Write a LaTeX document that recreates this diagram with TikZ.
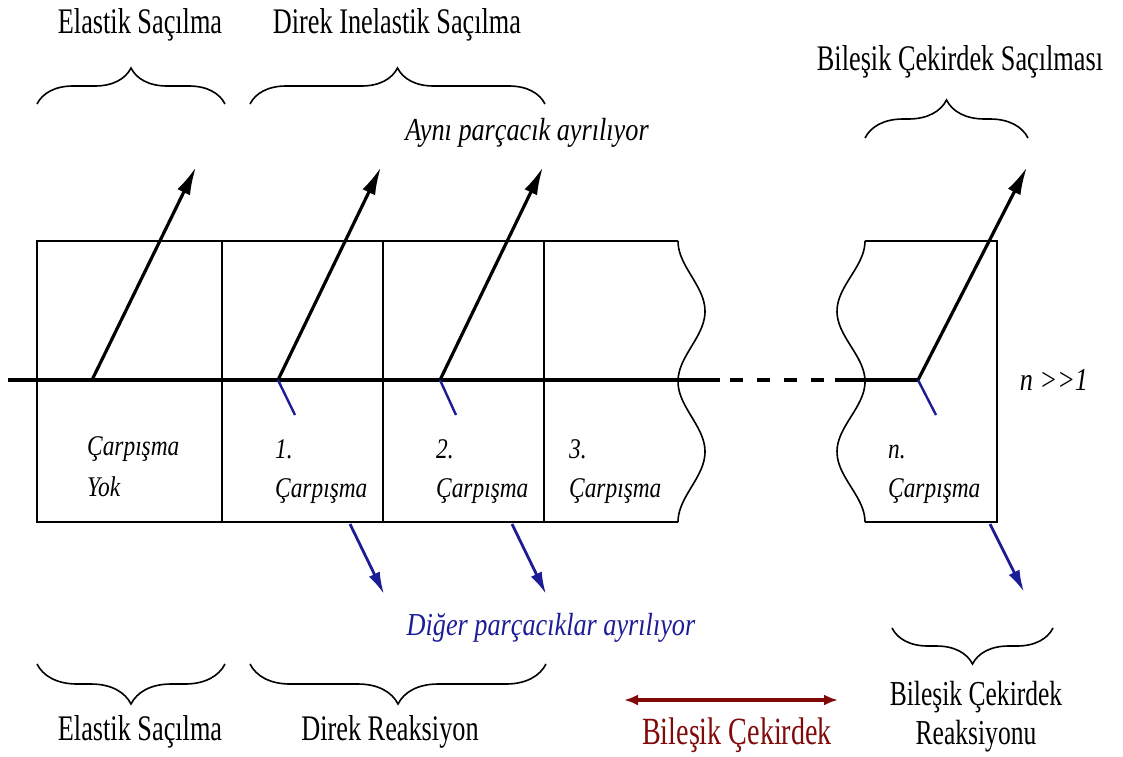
\documentclass[tikz,border=0pt]{standalone}
\usepackage{fontspec}
\setmainfont{Liberation Serif}[FakeStretch=0.82]
\newfontfamily\condserif{Liberation Serif}[FakeStretch=0.73]
\usetikzlibrary{arrows.meta,decorations.pathreplacing}
\definecolor{pblue}{RGB}{28,28,150}
\definecolor{pred}{RGB}{128,10,10}
\begin{document}
\begin{tikzpicture}[x=1pt,y=-1pt,
  frame/.style={line width=1.6pt},
  axis/.style={line width=3.8pt},
  emit/.style={line width=3.2pt,-{Latex[length=28pt,width=14pt]}},
  bluetick/.style={line width=2.4pt,draw=pblue},
  blueemit/.style={line width=2.8pt,draw=pblue,-{Latex[length=22pt,width=12pt]}},
  lbl/.style={font=\condserif\fontsize{36}{40}\selectfont,inner sep=0pt},
  itl/.style={font=\fontsize{32}{36}\selectfont\itshape,inner sep=0pt},
  boxtxt/.style={font=\fontsize{28.5}{30}\selectfont\itshape,inner sep=0pt,anchor=base west},
  brc/.style={decorate,decoration={brace,amplitude=#1},line width=1.6pt},
  brcm/.style={decorate,decoration={brace,mirror,amplitude=#1},line width=1.6pt},
]
\useasboundingbox (0,0) rectangle (1123,756);

% ---- interaction cells ----
\draw[frame] (678,241) -- (37,241) -- (37,522) -- (678,522);
\draw[frame] (222,241) -- (222,522);
\draw[frame] (383,241) -- (383,522);
\draw[frame] (544,241) -- (544,522);
\draw[frame] plot[domain=0:281,samples=80,smooth] ({691.5-13.5*cos(2.5623*\x)},{241+\x});
\draw[frame] (865,241) -- (997,241) -- (997,522) -- (865,522);
\draw[frame] plot[domain=0:281,samples=80,smooth] ({851+14*cos(2.5623*\x)},{241+\x});

% ---- projectile path ----
\coordinate (in)  at (8,380);
\coordinate (v0)  at (92,380);
\coordinate (v1)  at (278,380);
\coordinate (v2)  at (440,380);
\coordinate (gapA) at (720,380);
\coordinate (gapB) at (835,380);
\coordinate (vn)  at (918,380);
\draw[axis] (in) -- (gapA);
\draw[axis,dash pattern=on 13pt off 14pt,dash phase=-10pt] (gapA) -- (gapB);
\draw[axis] (gapB) -- (vn);

% ---- outgoing projectile ----
\coordinate (o0) at (196,167);
\coordinate (o1) at (381,167);
\coordinate (o2) at (543,167);
\coordinate (on) at (1027,167);
\draw[emit] (v0) -- (o0);
\draw[emit] (v1) -- (o1);
\draw[emit] (v2) -- (o2);
\draw[emit] (vn) -- (on);

% ---- recoil ticks ----
\coordinate (t1) at (295,415);
\coordinate (t2) at (456,415);
\coordinate (tn) at (936,415);
\draw[bluetick] (v1) -- (t1);
\draw[bluetick] (v2) -- (t2);
\draw[bluetick] (vn) -- (tn);

% ---- other particles leaving ----
\coordinate (b1s) at (350,524);
\coordinate (b1e) at (384,594);
\coordinate (b2s) at (512,524);
\coordinate (b2e) at (546,594);
\coordinate (bns) at (990,524);
\coordinate (bne) at (1024,592);
\draw[blueemit] (b1s) -- (b1e);
\draw[blueemit] (b2s) -- (b2e);
\draw[blueemit] (bns) -- (bne);

% ---- cell labels ----
\node[boxtxt] (c0a) at (87,455) {Çarpışma};
\node[boxtxt] (c0b) at (87,496) {Yok};
\node[boxtxt] (c1a) at (275,458) {1.};
\node[boxtxt] (c1b) at (275,497) {Çarpışma};
\node[boxtxt] (c2a) at (436,458) {2.};
\node[boxtxt] (c2b) at (436,497) {Çarpışma};
\node[boxtxt] (c3a) at (569,458) {3.};
\node[boxtxt] (c3b) at (569,497) {Çarpışma};
\node[boxtxt] (cna) at (888,458) {n.};
\node[boxtxt] (cnb) at (888,497) {Çarpışma};
\node[itl] (nn) at (1054,380) {n >{}>1};

% ---- braces above ----
\draw[brc=36pt] (37,104) -- (225,104);
\draw[brc=36pt] (250,104) -- (545,104);
\draw[brc=38pt] (865,138) -- (1028,138);
\node[lbl] (t_el) at (140,25) {Elastik Saçılma};
\node[lbl] (t_di) at (397,25) {Direk Inelastik Saçılma};
\node[lbl] (t_bc) at (960,62) {Bileşik Çekirdek Saçılması};
\node[itl] (same) at (527,133) {Aynı parçacık ayrılıyor};

% ---- braces below ----
\node[itl,text=pblue] (other) at (551,628) {Diğer parçacıklar ayrılıyor};
\draw[brcm=40pt] (37,664) -- (225,664);
\draw[brcm=40pt] (250,664) -- (546,664);
\draw[brcm=36pt] (892,628) -- (1053,628);
\node[lbl] (b_el) at (140,732) {Elastik Saçılma};
\node[lbl] (b_dr) at (390,732) {Direk Reaksiyon};
\node[lbl,align=center,font=\condserif\fontsize{35}{39}\selectfont] (b_bc) at (976,717) {Bileşik Çekirdek\\Reaksiyonu};

% ---- compound nucleus span ----
\coordinate (rl) at (624,700);
\coordinate (rr) at (838,700);
\draw[pred,line width=3.2pt,{Latex[length=14pt,width=11pt]}-{Latex[length=14pt,width=11pt]}] (rl) -- (rr);
\node[lbl,text=pred,font=\condserif\fontsize{38.5}{42}\selectfont] (cn) at (737,735) {Bileşik Çekirdek};
\end{tikzpicture}
\end{document}
